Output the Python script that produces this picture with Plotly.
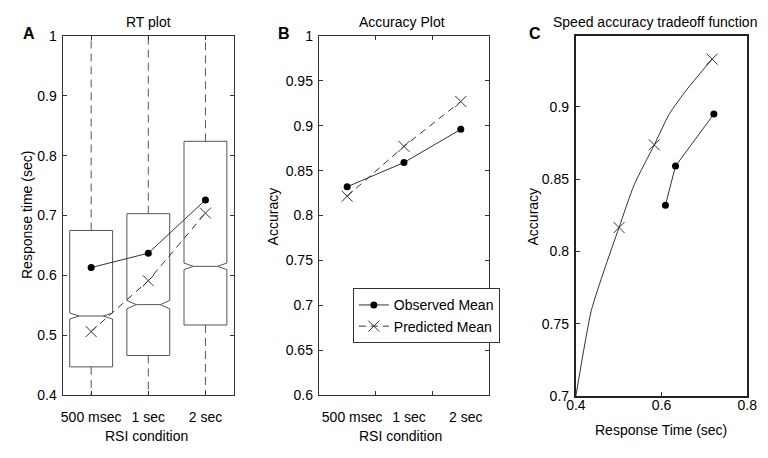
import plotly.graph_objects as go

# ---------------- data ----------------
cats = ["500 msec", "1 sec", "2 sec"]

# Panel A: RT box statistics (sec)
rt_q1 = [0.447, 0.466, 0.517]
rt_median = [0.532, 0.551, 0.615]
rt_q3 = [0.675, 0.703, 0.824]
rt_notch = [0.005, 0.007, 0.0055]
rt_whisker_lo = [0.38, 0.38, 0.38]
rt_whisker_hi = [1.02, 1.02, 1.02]
rt_observed = [0.613, 0.637, 0.726]
rt_predicted = [0.506, 0.591, 0.704]

# Panel B: accuracy
acc_observed = [0.832, 0.859, 0.896]
acc_predicted = [0.8215, 0.877, 0.927]

# Panel C: speed accuracy tradeoff
sat_obs_rt = [0.609, 0.6325, 0.722]
sat_obs_acc = [0.832, 0.859, 0.895]
sat_pred_rt = [0.5007, 0.583, 0.718]
sat_pred_acc = [0.8165, 0.8737, 0.933]
sat_curve_rt = [0.400, 0.436, 0.466, 0.5007, 0.536, 0.583, 0.618, 0.659, 0.718]
sat_curve_acc = [0.700, 0.759, 0.787, 0.8165, 0.846, 0.8737, 0.895, 0.912, 0.933]

a_yticks = [0.4, 0.5, 0.6, 0.7, 0.8, 0.9, 1.0]
a_yticktext = ["0.4", "0.5", "0.6", "0.7", "0.8", "0.9", "1"]
b_yticks = [0.6, 0.65, 0.7, 0.75, 0.8, 0.85, 0.9, 0.95, 1.0]
b_yticktext = ["0.6", "0.65", "0.7", "0.75", "0.8", "0.85", "0.9", "0.95", "1"]
c_yticks = [0.7, 0.75, 0.8, 0.85, 0.9]
c_yticktext = ["0.7", "0.75", "0.8", "0.85", "0.9"]
c_xticks = [0.4, 0.6, 0.8]
c_xticktext = ["0.4", "0.6", "0.8"]

# ---------------- styling ----------------
W, H = 768, 458
FONT = "Liberation Sans, Arial, Helvetica, sans-serif"
LINE = "#333333"
BOXC = "#555555"

def px(x):
    return x / W

def py(y):
    return 1 - y / H

fig = go.Figure()

# ---- Panel A ----
fig.add_trace(go.Box(
    x=cats, q1=rt_q1, median=rt_median, q3=rt_q3,
    lowerfence=rt_q1, upperfence=rt_q3, notchspan=rt_notch,
    notched=True, notchwidth=0.22, width=0.75, whiskerwidth=0,
    line=dict(color=BOXC, width=1), fillcolor="rgba(0,0,0,0)",
    boxpoints=False, showlegend=False, hoverinfo="skip",
    xaxis="x", yaxis="y"))

wx, wy = [], []
for c, lo, q1, q3, hi in zip(cats, rt_whisker_lo, rt_q1, rt_q3, rt_whisker_hi):
    wx += [c, c, None, c, c, None]
    wy += [q3, hi, None, q1, lo, None]
fig.add_trace(go.Scatter(
    x=wx, y=wy, mode="lines", line=dict(color=BOXC, width=1, dash="8px,5px"),
    showlegend=False, hoverinfo="skip", xaxis="x", yaxis="y"))

fig.add_trace(go.Scatter(
    x=cats, y=rt_observed, mode="lines+markers",
    line=dict(color=LINE, width=1),
    marker=dict(symbol="circle", size=7, color="black"),
    showlegend=False, xaxis="x", yaxis="y"))
fig.add_trace(go.Scatter(
    x=cats, y=rt_predicted, mode="lines+markers",
    line=dict(color=LINE, width=1, dash="7px,5px"),
    marker=dict(symbol="x-thin", size=11, line=dict(color=LINE, width=1)),
    showlegend=False, xaxis="x", yaxis="y"))

# ---- Panel B ----
fig.add_trace(go.Scatter(
    x=cats, y=acc_observed, mode="lines+markers", name="Observed Mean",
    line=dict(color=LINE, width=1),
    marker=dict(symbol="circle", size=7, color="black"),
    xaxis="x2", yaxis="y2"))
fig.add_trace(go.Scatter(
    x=cats, y=acc_predicted, mode="lines+markers", name="Predicted Mean",
    line=dict(color=LINE, width=1, dash="7px,5px"),
    marker=dict(symbol="x-thin", size=11, line=dict(color=LINE, width=1)),
    xaxis="x2", yaxis="y2"))

# ---- Panel C ----
fig.add_trace(go.Scatter(
    x=sat_curve_rt, y=sat_curve_acc, mode="lines",
    line=dict(color=LINE, width=1, shape="spline", smoothing=0.6),
    showlegend=False, xaxis="x3", yaxis="y3"))
fig.add_trace(go.Scatter(
    x=sat_pred_rt, y=sat_pred_acc, mode="markers",
    marker=dict(symbol="x-thin", size=11, line=dict(color=LINE, width=1)),
    showlegend=False, xaxis="x3", yaxis="y3"))
fig.add_trace(go.Scatter(
    x=sat_obs_rt, y=sat_obs_acc, mode="lines+markers",
    line=dict(color=LINE, width=1),
    marker=dict(symbol="circle", size=7, color="black"),
    showlegend=False, xaxis="x3", yaxis="y3"))

tickfont = dict(family=FONT, size=14, color="black")

common = dict(showgrid=False, zeroline=False, showline=True,
              linecolor=LINE, linewidth=1, ticks="inside", ticklen=4,
              tickcolor=LINE, tickfont=tickfont)

yA0, yA1 = py(401), py(29)

fig.update_layout(
    width=W, height=H,
    margin=dict(l=0, r=0, t=0, b=0),
    paper_bgcolor="white", plot_bgcolor="white",
    font=dict(family=FONT, size=14, color="black"),
    xaxis=dict(domain=[px(54), px(230)], anchor="y", type="category",
               categoryorder="array", categoryarray=cats, tickangle=0,
               range=[-0.5, 2.5], mirror="ticks", ticklabelstandoff=9, **common),
    yaxis=dict(domain=[yA0, yA1], anchor="x", range=[0.4, 1.0],
               tickvals=a_yticks, ticktext=a_yticktext, mirror="ticks",
               ticklabelstandoff=2, **common),
    xaxis2=dict(domain=[px(317), px(492)], anchor="y2", type="category",
                categoryorder="array", categoryarray=cats, tickangle=0,
                range=[-0.5, 2.5], tickson="boundaries", mirror="ticks",
                ticklabelstandoff=9, ticklabelshift=5, **common),
    yaxis2=dict(domain=[yA0, yA1], anchor="x2", range=[0.6, 1.0],
                tickvals=b_yticks, ticktext=b_yticktext, mirror="ticks",
                ticklabelstandoff=2, **common),
    xaxis3=dict(domain=[px(581), px(757)], anchor="y3", range=[0.4, 0.8],
                tickvals=c_xticks, ticktext=c_xticktext, showgrid=False,
                zeroline=False, showline=True, linecolor="#222222", linewidth=2,
                mirror=True, ticks="inside", ticklen=4, tickcolor=LINE,
                tickfont=tickfont, tickangle=0, ticklabelstandoff=-5),
    yaxis3=dict(domain=[py(402), py(29)], anchor="x3", range=[0.7, 0.949],
                tickvals=c_yticks, ticktext=c_yticktext, showgrid=False,
                zeroline=False, showline=True, linecolor="#222222", linewidth=2,
                mirror=True, ticks="inside", ticklen=4, tickcolor=LINE,
                tickfont=tickfont, ticklabelstandoff=2),
    legend=dict(x=px(352), y=py(319), xanchor="left", yanchor="middle",
                bgcolor="white", bordercolor=LINE, borderwidth=1,
                font=dict(family=FONT, size=14, color="black"),
                tracegroupgap=0, itemwidth=30),
    showlegend=True,
)

ann = []
def add_text(text, x, y, size=14, bold=False, angle=0, xanchor="center"):
    ann.append(dict(text=("<b>%s</b>" % text) if bold else text,
                    x=px(x), y=py(y), xref="paper", yref="paper",
                    xanchor=xanchor, yanchor="middle", showarrow=False,
                    textangle=angle, font=dict(family=FONT, size=size, color="black")))

add_text("RT plot", 142, 14)
add_text("Accuracy Plot", 402, 15)
add_text("Speed accuracy tradeoff function", 662, 14)
add_text("A", 19, 26, size=16, bold=True)
add_text("B", 281, 26, size=16, bold=True)
add_text("C", 539, 26, size=16, bold=True)
add_text("Response time (sec)", 18, 215, angle=-90)
add_text("Accuracy", 271, 216, angle=-90)
add_text("Accuracy", 537, 216, angle=-90)
add_text("RSI condition", 140, 444)
add_text("RSI condition", 401, 444)
add_text("Response Time (sec)", 668, 437)
fig.update_layout(annotations=ann)

fig.write_html("out.html",
               config={"displayModeBar": False},
               post_script="document.body.style.margin='0';document.body.style.overflow='hidden';")
